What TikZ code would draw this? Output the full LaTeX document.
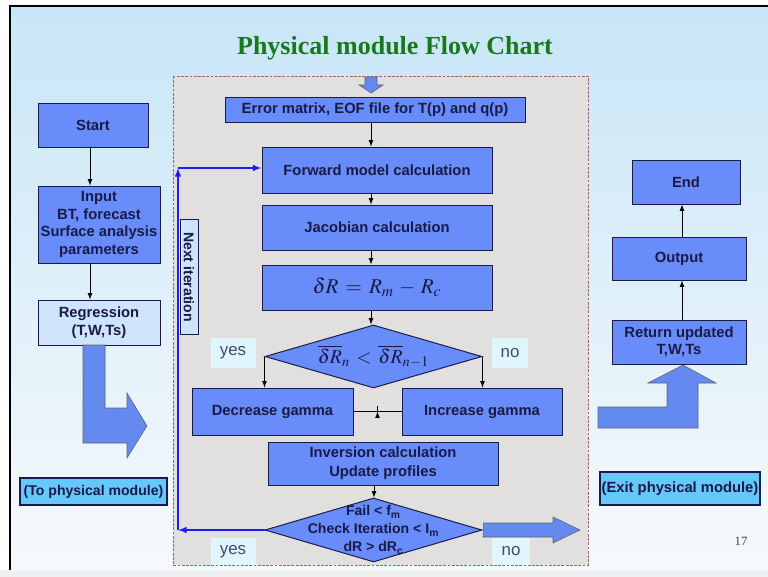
\documentclass[tikz,border=0pt]{standalone}
\usepackage{mathptmx}
\usepackage[no-math]{fontspec}
\setmainfont{Liberation Serif}
\setsansfont{Liberation Sans}
\usetikzlibrary{shapes.geometric,calc}
\definecolor{boxblue}{RGB}{104,140,250}
\definecolor{arrblue}{RGB}{100,138,240}
\definecolor{paleblue}{RGB}{205,228,250}
\definecolor{tagcyan}{RGB}{222,246,252}
\definecolor{modcyan}{RGB}{100,200,250}
\definecolor{navy}{RGB}{26,26,70}
\definecolor{slidetop}{RGB}{200,230,247}
\definecolor{slidebot}{RGB}{246,249,252}
\definecolor{panel}{RGB}{226,224,223}
\definecolor{panelline}{RGB}{160,100,100}
\definecolor{titlegreen}{RGB}{24,120,30}
\definecolor{loopblue}{RGB}{30,30,240}
\newcommand{\pxu}{0.025cm}
\tikzset{
  box/.style={draw=navy, line width=0.7pt, fill=boxblue, text=navy, align=center,
    inner sep=0pt, font=\sffamily\bfseries\fontsize{10.5}{12.3}\selectfont},
  lightbox/.style={box, fill=paleblue},
  modbox/.style={box, fill=modcyan, line width=0.8pt},
  decision/.style={diamond, draw=navy, line width=0.7pt, fill=boxblue, inner sep=0pt},
  tag/.style={fill=tagcyan, text=navy!80, inner sep=0pt, font=\sffamily\fontsize{12}{14}\selectfont},
  arr/.style={-latex, line width=0.6pt},
  looparr/.style={-latex, loopblue, line width=1.1pt},
  blockarr/.style={fill=arrblue, draw=gray!70!navy, line width=0.4pt}
}
\begin{document}
\begin{tikzpicture}[x=\pxu, y=-\pxu]
\useasboundingbox (0,0) rectangle (768,577);
% slide
\fill[gray!12] (0,0) rectangle (768,577);
\fill[white] (0,0) rectangle (768,570);
\shade[top color=slidetop, bottom color=slidebot] (10,6) rectangle (768,570);
\draw[line width=0.8pt] (10,570) -- (10,6) -- (768,6);
\node[font=\bfseries\fontsize{18.5}{20}\selectfont, text=titlegreen] (title) at (395,48) {Physical module Flow Chart};
\node[font=\fontsize{9}{10}\selectfont, text=black!75] (page) at (741,541) {17};

% physical module panel
\draw[fill=panel, draw=panelline, dashed, dash pattern=on 2pt off 1pt, line width=0.5pt] (173,76) rectangle (588,565);
\draw[blockarr] (365,77) -- (377,77) -- (377,85) -- (383,85) -- (371,93) -- (359,85) -- (365,85) -- cycle;

% left column
\node[box, minimum width=110*\pxu, minimum height=44*\pxu] (start) at (93,125) {Start};
\node[box, font=\sffamily\bfseries\fontsize{10.5}{12.6}\selectfont, minimum width=122*\pxu, minimum height=77*\pxu] (input) at (99,224.5)
  {Input\\BT, forecast\\Surface analysis\\parameters};
\node[lightbox, font=\sffamily\bfseries\fontsize{10.5}{13}\selectfont, minimum width=122*\pxu, minimum height=45*\pxu] (regr) at (99,322.5)
  {Regression\\(T,W,Ts)};
\node[modbox, font=\sffamily\bfseries\fontsize{10}{11}\selectfont, minimum width=147*\pxu, minimum height=27*\pxu] (tophys) at (93.5,491.5) {(To physical module)};
\draw[arr] (start.south -| 90,0) -- (input.north -| 90,0);
\draw[arr] (input.south -| 90,0) -- (regr.north -| 90,0);
\draw[blockarr] (83,345) -- (105,345) -- (105,408) -- (127,408) -- (127,393) -- (147,426)
  -- (127,458) -- (127,443) -- (83,443) -- cycle;

% main column
\node[box, minimum width=300*\pxu, minimum height=25*\pxu] (errm) at (375,109.5)
  {Error matrix, EOF file for T(p) and q(p)};
\node[box, minimum width=230*\pxu, minimum height=46*\pxu] (fwd) at (377,170) {Forward model calculation};
\node[box, minimum width=230*\pxu, minimum height=45*\pxu] (jac) at (377,227.5) {Jacobian calculation};
\node[box, font=\fontsize{15}{17}\selectfont, minimum width=230*\pxu, minimum height=45*\pxu] (dr) at (377,287.5)
  {$\delta R \,=\, R_{m} \,-\, R_{c}$};
\node[decision, minimum width=217*\pxu, minimum height=63*\pxu] (dec1) at (373.5,356.5) {};
\node[text=navy, font=\fontsize{14}{16}\selectfont] (dec1txt) at (dec1) {$\overline{\delta R}_{n} \,<\, \overline{\delta R}_{n-1}$};
\node[tag, minimum width=45*\pxu, minimum height=30*\pxu] (yes1) at (233,353) {yes};
\node[tag, minimum width=36*\pxu, minimum height=30*\pxu] (no1) at (510,353) {no};
\node[box, minimum width=161*\pxu, minimum height=47*\pxu] (decg) at (272.5,411.5) {Decrease gamma};
\node[box, minimum width=160*\pxu, minimum height=47*\pxu] (incg) at (482,411.5) {Increase gamma};
\node[box, font=\sffamily\bfseries\fontsize{10.5}{13.5}\selectfont, minimum width=230*\pxu, minimum height=43*\pxu] (inv) at (383,463.5)
  {Inversion calculation\\Update profiles};
\node[decision, minimum width=217*\pxu, minimum height=64*\pxu] (dec2) at (373.5,530) {};
\node[text=navy, align=center, font=\sffamily\bfseries\fontsize{10}{12.8}\selectfont] (dec2txt) at (dec2)
  {Fail < f\textsubscript{m}\\Check Iteration < I\textsubscript{m}\\dR > dR\textsubscript{c}};
\node[tag, minimum width=45*\pxu, minimum height=27*\pxu] (yes2) at (233,551.5) {yes};
\node[tag, minimum width=38*\pxu, minimum height=27*\pxu] (no2) at (511,551.5) {no};
\node[lightbox, font=\sffamily\bfseries\fontsize{10}{11}\selectfont, rotate=-90, minimum width=115*\pxu, minimum height=18*\pxu] (nextit) at (189,277) {Next iteration};

\draw[arr] (errm.south -| 371,0) -- (fwd.north -| 371,0);
\draw[arr] (fwd.south -| 371,0) -- (jac.north -| 371,0);
\draw[arr] (jac.south -| 371,0) -- (dr.north -| 371,0);
\draw[arr] (dr.south -| 371,0) -- (dec1.north -| 371,0);
\draw[arr] (dec1.west) -- (dec1.west |- decg.north);
\draw[arr] (dec1.east) -- (dec1.east |- incg.north);
\draw[line width=0.6pt] (decg.east) -- (incg.west);
\draw[arr] ($(decg.east)!0.5!(incg.west)$) -- ($(decg.east)!0.5!(incg.west)$ |- inv.north);
\draw[arr] (inv.south -| 374,0) -- (dec2.north -| 374,0);
\coordinate (loopb) at (178,530);
\coordinate (loopt) at (178,168);
\draw[looparr] (dec2.west) -- (loopb);
\draw[looparr] (loopb) -- (loopt);
\draw[looparr] (loopt) -- (loopt -| fwd.west);
\draw[blockarr] (dec2.east) ++(1,-7) -- (553,523) -- (553,517) -- (580,530) -- (553,543)
  -- (553,537) -- (483,537) -- cycle;

% right column
\node[box, minimum width=108*\pxu, minimum height=44*\pxu] (end) at (686,182) {End};
\node[box, minimum width=134*\pxu, minimum height=43*\pxu] (output) at (679,258.5) {Output};
\node[box, font=\sffamily\bfseries\fontsize{10.5}{12.5}\selectfont, minimum width=134*\pxu, minimum height=44*\pxu] (ret) at (679,342) {Return updated\\T,W,Ts};
\node[modbox, font=\sffamily\bfseries\fontsize{10.5}{12}\selectfont, minimum width=160*\pxu, minimum height=33*\pxu] (exitm) at (680,488.5)
  {(Exit physical module)};
\draw[arr] (ret.north -| 682,0) -- (output.south -| 682,0);
\draw[arr] (output.north -| 682,0) -- (end.south -| 682,0);
\draw[blockarr] (598,407) -- (667,407) -- (667,383) -- (648,383) -- (683,365) -- (716,383)
  -- (698,383) -- (698,428) -- (598,428) -- cycle;
\end{tikzpicture}
\end{document}
